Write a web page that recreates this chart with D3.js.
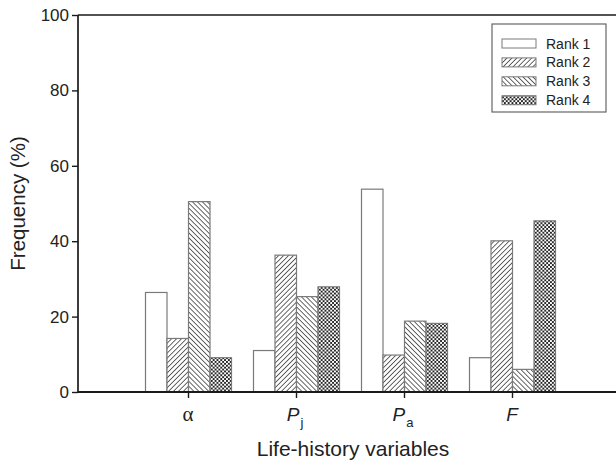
<!DOCTYPE html>
<html>
<head>
<meta charset="utf-8">
<script src="https://cdn.jsdelivr.net/npm/d3@7"></script>
<style>
  html, body { margin: 0; padding: 0; background: #fff; }
  svg { display: block; font-family: "Liberation Sans", Arial, sans-serif; }
</style>
</head>
<body>
<svg id="chart" width="616" height="463"></svg>
<script>
// Life-history variables on the x axis
const categories = ["alpha", "Pj", "Pa", "F"];
const ranks = ["Rank 1", "Rank 2", "Rank 3", "Rank 4"];

// Frequency (%) of each rank for every variable
const rank1 = [26.4, 11.0, 53.8, 9.1];
const rank2 = [14.2, 36.3, 9.8, 40.1];
const rank3 = [50.5, 25.3, 18.8, 6.0];
const rank4 = [9.1, 27.9, 18.2, 45.4];
const series = [rank1, rank2, rank3, rank4];

const yTicks = [0, 20, 40, 60, 80, 100];

const svg = d3.select("#chart");
const plotLeft = 78, plotRight = 616, plotTop = 15, plotBottom = 392;

// --- fill patterns for the four ranks ---
const defs = svg.append("defs");
const hatchColor = "#262626";

function linePattern(id, dir) {
  const s = 3.5;
  const p = defs.append("pattern")
    .attr("id", id).attr("patternUnits", "userSpaceOnUse")
    .attr("width", s).attr("height", s)
    .attr("patternTransform", `rotate(${dir > 0 ? 45 : -45})`);
  p.append("rect").attr("width", s).attr("height", s).attr("fill", "#fff");
  p.append("line").attr("x1", 0).attr("y1", 0).attr("x2", 0).attr("y2", s)
    .attr("stroke", hatchColor).attr("stroke-width", 1.4);
}
linePattern("hatch2", 1);
linePattern("hatch3", -1);

(function () {
  const s = 3.8;
  const p = defs.append("pattern")
    .attr("id", "hatch4").attr("patternUnits", "userSpaceOnUse")
    .attr("width", s).attr("height", s);
  p.append("rect").attr("width", s).attr("height", s).attr("fill", "#fff");
  p.append("rect").attr("x", 0).attr("y", 0).attr("width", s / 2).attr("height", s / 2).attr("fill", hatchColor);
  p.append("rect").attr("x", s / 2).attr("y", s / 2).attr("width", s / 2).attr("height", s / 2).attr("fill", hatchColor);
})();

const fills = ["#fff", "url(#hatch2)", "url(#hatch3)", "url(#hatch4)"];

// --- scales ---
const y = d3.scaleLinear().domain([0, 100]).range([plotBottom, plotTop]);
const x = d3.scalePoint().domain(categories).range([188, 512]);
const inner = d3.scaleBand().domain(ranks).range([-43, 43]).padding(0);

// --- bars ---
const groups = svg.append("g").selectAll("g")
  .data(categories)
  .join("g")
  .attr("transform", d => `translate(${x(d)},0)`);

groups.selectAll("rect")
  .data((c, ci) => ranks.map((r, ri) => ({ r, ri, v: series[ri][ci] })))
  .join("rect")
  .attr("x", d => inner(d.r) + 0.5)
  .attr("y", d => y(d.v))
  .attr("width", inner.bandwidth())
  .attr("height", d => plotBottom - y(d.v))
  .attr("fill", d => fills[d.ri])
  .attr("stroke", "#7a7a7a")
  .attr("stroke-width", 1.2);

// --- axes ---
const axisColor = "#1a1a1a";
const yAxis = svg.append("g")
  .attr("transform", `translate(${plotLeft},0)`)
  .call(d3.axisLeft(y).tickValues(yTicks).tickSize(6).tickPadding(3).tickFormat(d3.format("d")));
yAxis.select(".domain").attr("stroke", axisColor).attr("stroke-width", 1.7).attr("d", `M0,${plotTop}V${plotBottom}`);
yAxis.selectAll(".tick line").attr("stroke", axisColor).attr("stroke-width", 1.4);
yAxis.selectAll(".tick text").attr("font-size", 17).attr("fill", "#222")
  .attr("font-family", "'Liberation Sans', Arial, sans-serif");

const xAxis = svg.append("g")
  .attr("transform", `translate(0,${plotBottom})`)
  .call(d3.axisBottom(x).tickSize(6).tickFormat(""));
xAxis.select(".domain").attr("stroke", axisColor).attr("stroke-width", 1.9).attr("d", `M${plotLeft},0H${plotRight}`);
xAxis.selectAll(".tick line").attr("stroke", axisColor).attr("stroke-width", 1.4);

// top frame line
svg.append("line")
  .attr("x1", plotLeft).attr("x2", plotRight).attr("y1", plotTop).attr("y2", plotTop)
  .attr("stroke", axisColor).attr("stroke-width", 1.7);

// category labels (italic symbols with subscripts)
const labelSpec = {
  alpha: { main: "\u03b1", sub: null, italic: false, serif: true },
  Pj: { main: "P", sub: "j", italic: true },
  Pa: { main: "P", sub: "a", italic: true },
  F: { main: "F", sub: null, italic: true }
};
categories.forEach(c => {
  const spec = labelSpec[c];
  const t = svg.append("text")
    .attr("x", x(c) + (spec.sub ? -1 : 0))
    .attr("y", 421)
    .attr("text-anchor", "middle")
    .attr("font-size", 19)
    .attr("fill", "#222");
  const main = t.append("tspan").attr("font-style", spec.italic ? "italic" : "normal").text(spec.main);
  if (spec.serif) main.attr("font-family", "'Liberation Serif', serif").attr("font-size", 21);
  if (spec.sub) {
    t.append("tspan").attr("font-size", 13).attr("dy", 6).attr("dx", 1).text(spec.sub);
  }
});

// axis titles
svg.append("text")
  .attr("x", 353).attr("y", 456)
  .attr("text-anchor", "middle")
  .attr("font-size", 21).attr("fill", "#222")
  .text("Life-history variables");

svg.append("text")
  .attr("transform", `translate(25,${(plotTop + plotBottom) / 2}) rotate(-90)`)
  .attr("text-anchor", "middle")
  .attr("font-size", 20.5).attr("fill", "#222")
  .text("Frequency (%)");

// --- legend ---
const lg = svg.append("g").attr("transform", "translate(492,24)");
lg.append("rect")
  .attr("width", 114).attr("height", 88)
  .attr("fill", "#fff").attr("stroke", "#666").attr("stroke-width", 1.2);
const rows = lg.selectAll("g.row")
  .data(ranks)
  .join("g")
  .attr("class", "row")
  .attr("transform", (d, i) => `translate(10,${19.5 + i * 18.9})`);
rows.append("rect")
  .attr("x", 0).attr("y", -4.5)
  .attr("width", 34).attr("height", 9)
  .attr("fill", (d, i) => fills[i])
  .attr("stroke", "#7a7a7a").attr("stroke-width", 1);
rows.append("text")
  .attr("x", 44).attr("y", 5)
  .attr("font-size", 14).attr("fill", "#222")
  .text(d => d);
</script>
</body>
</html>
